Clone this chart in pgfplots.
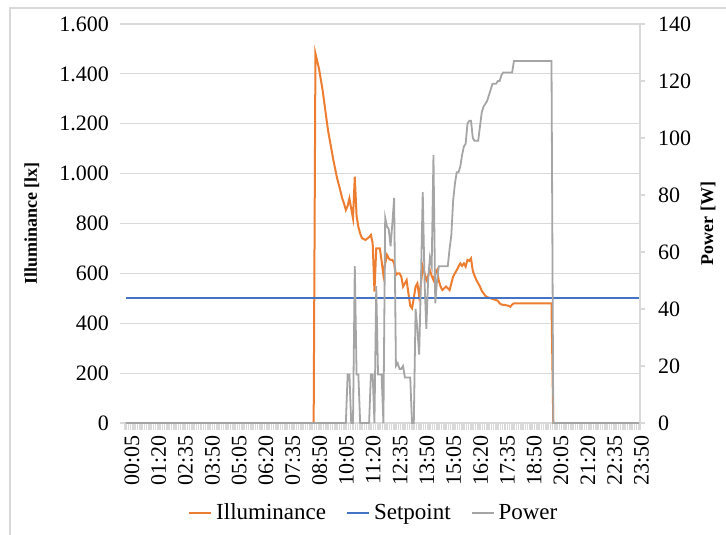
\documentclass[border=0pt]{standalone}
\usepackage{fontspec}
\setmainfont{Liberation Serif}
\usepackage{pgfplots}
\pgfplotsset{compat=1.18}
\definecolor{illum}{HTML}{ED7D31}
\definecolor{setp}{HTML}{4472C4}
\definecolor{powr}{HTML}{A5A5A5}
\definecolor{gridc}{HTML}{D9D9D9}

% x = index of the 5-minute step, 0 = 00:05 ... 287 = 24:00
\pgfplotsset{
  common/.style={
    scale only axis, width=257.5pt, height=199.5pt,
    at={(0,0)}, anchor=south west,
    xmin=-0.5, xmax=287.5,
    tick label style={font=\fontsize{11}{13}\selectfont},
    /pgf/number format/assume math mode=true,
    tick align=outside,
  },
}

\begin{document}
\begin{tikzpicture}[x=1pt,y=1pt]
\useasboundingbox (-62.5,-55.5) rectangle (300.5,211.5);
\draw[gridc, line width=0.6pt] (-57.5,-70) -- (-57.5,207.5) -- (320,207.5);

\begin{axis}[common,
  ymin=0, ymax=1600, ytick={0,200,...,1600},
  /pgf/number format/1000 sep={.},
  ymajorgrids, grid style={gridc, line width=0.6pt},
  axis x line*=bottom, axis y line*=left,
  x axis line style={gridc, line width=0.8pt, -},
  y axis line style={draw=none},
  ytick style={gridc, line width=0.6pt}, major tick length=2.5pt,
  yticklabel style={xshift=-2pt},
  xtick={0,15,...,285},
  xticklabels={00:05,01:20,02:35,03:50,05:05,06:20,07:35,08:50,10:05,11:20,12:35,13:50,15:05,16:20,17:35,18:50,20:05,21:20,22:35,23:50},
  xticklabel style={rotate=90, anchor=east, yshift=-3pt},
  major x tick style={draw=none},
  minor xtick={-0.5,0.5,...,287.5},
  minor x tick style={gridc, line width=0.6pt}, minor tick length=3.5pt,
  ylabel={Illuminance [lx]},
  ylabel style={at={(axis description cs:-0.181,0.5)}, anchor=center,
    font=\fontsize{9}{11}\selectfont\bfseries},
]
% Illuminance [lx]
\addplot[illum, line width=1pt] coordinates {
(0,0)(105,0)(106,1482)(108,1420)(110,1335)(113,1175)(116,1055)(118,985)
(120,930)(121,900)(122,880)(123,854)(124,870)(125,901)(126,860)(127,821)
(128,988)(129,830)(130,787)(131,760)(132,741)(134,734)(135,740)(136,745)
(137,754)(138,721)(139,527)(140,700)(142,700)(143,650)(144,593)(145,640)
(146,674)(147,660)(148,654)(149,654)(150,640)(151,593)(152,600)(153,600)
(154,587)(155,547)(156,560)(157,573)(158,520)(159,470)(160,460)(161,500)
(162,547)(163,560)(164,507)(165,560)(166,627)(167,600)(168,573)(169,590)
(170,613)(171,590)(172,573)(173,600)(174,613)(175,570)(176,547)(177,533)
(178,540)(179,547)(180,540)(181,533)(182,560)(183,587)(184,600)(185,613)
(186,627)(187,640)(188,630)(189,640)(190,627)(191,654)(192,650)(193,660)
(194,610)(195,590)(196,573)(197,560)(198,547)(199,530)(200,520)(201,510)
(202,505)(204,500)(206,495)(207,493)(208,490)(209,480)(210,475)(212,473)
(214,470)(215,466)(216,475)(217,480)(238,480)(239,0)(287,0)
};
% Setpoint [lx]
\addplot[setp, line width=1pt] coordinates {(0,500)(287,500)};
\end{axis}

\begin{axis}[common,
  ymin=0, ymax=140, ytick={0,20,...,140},
  axis x line=none, axis y line*=right,
  y axis line style={gridc, line width=0.6pt, -},
  ytick style={gridc, line width=0.6pt}, major tick length=2.5pt,
  yticklabel style={xshift=3pt},
  ylabel={Power [W]},
  ylabel style={at={(axis description cs:1.132,0.5)}, anchor=center,
    font=\fontsize{9}{11}\selectfont\bfseries},
  legend columns=3,
  legend style={at={(0.485,-0.2256)}, anchor=center, draw=none, fill=none,
    font=\fontsize{11.5}{13}\selectfont,
    /tikz/every even column/.append style={column sep=8pt}},
  legend image code/.code={\draw[#1] (0pt,0pt) -- (11pt,0pt);},
]
\addlegendimage{illum, line width=1pt}
\addlegendentry{Illuminance}
\addlegendimage{setp, line width=1pt}
\addlegendentry{Setpoint}
% Power [W]
\addplot[powr, line width=0.9pt] coordinates {
(0,0)(123,0)(124,17)(125,17)(126,0)(127,0)(128,55)(129,17)(130,17)(131,0)
(136,0)(137,17)(138,17)(139,0)(140,48)(141,17)(142,17)(143,17)(144,0)
(145,72)(146,69)(147,68)(148,62)(149,70)(150,79)(151,20)(152,21)(153,19)
(154,19)(155,20)(156,16)(159,16)(160,0)(161,0)(162,40)(163,33)(164,24)
(165,50)(166,81)(167,50)(168,33)(169,50)(170,58)(171,55)(172,94)(173,42)
(174,50)(175,55)(180,55)(181,61)(182,66)(183,78)(184,84)(185,88)(186,88)
(187,90)(188,94)(189,97)(190,98)(191,105)(192,106)(193,106)(194,100)
(195,99)(197,99)(198,104)(199,109)(200,111)(201,112)(202,113)(203,115)
(204,117)(205,119)(207,119)(208,120)(209,120)(210,122)(211,123)(216,123)
(217,127)(238,127)(239,0)(287,0)
};
\addlegendentry{Power}
\end{axis}
\end{tikzpicture}
\end{document}
